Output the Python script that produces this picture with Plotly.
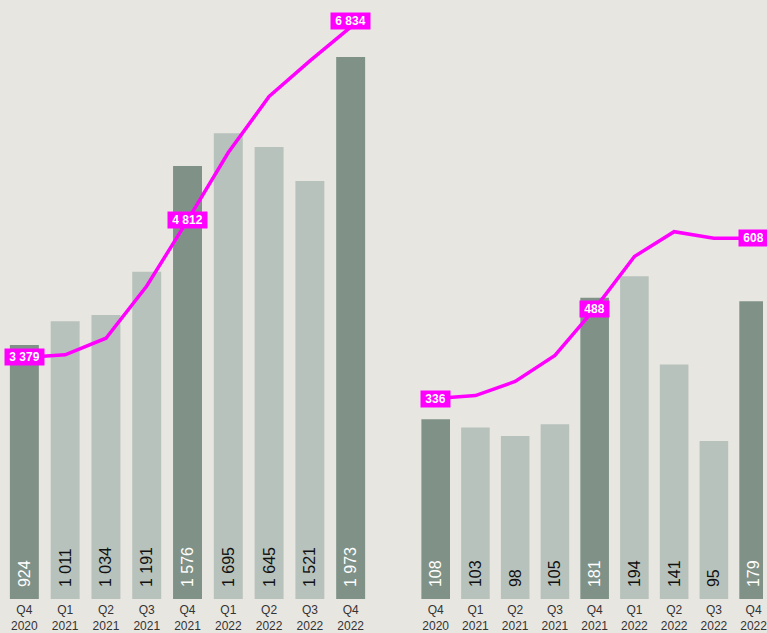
import plotly.graph_objects as go

quarters = ["Q4<br>2020", "Q1<br>2021", "Q2<br>2021", "Q3<br>2021", "Q4<br>2021",
            "Q1<br>2022", "Q2<br>2022", "Q3<br>2022", "Q4<br>2022"]
left_bars = [924, 1011, 1034, 1191, 1576, 1695, 1645, 1521, 1973]
left_line = [3379, 3406, 3580, 4126, 4812, 5522, 6109, 6481, 6834]
right_bars = [108, 103, 98, 105, 181, 194, 141, 95, 179]
right_line = [336, 341, 365, 409, 488, 577, 619, 608, 608]
label_idx = [0, 4, 8]

DARK = "#809288"
LIGHT = "#b8c2bc"
BG = "#e8e6e1"
MAG = "#ff00ff"


def fmt(v):
    return f"{v:,}".replace(",", " ")


def is_dark(i):
    return quarters[i].startswith("Q4")


bar_colors = [DARK if is_dark(i) else LIGHT for i in range(len(quarters))]
txt_colors = ["#ffffff" if is_dark(i) else "#111111" for i in range(len(quarters))]
BARFONT = "Arial, Liberation Sans, sans-serif"

fig = go.Figure()


def add_panel(bars, line, xa, ya, ya2, width):
    fig.add_trace(go.Bar(
        x=quarters, y=bars, xaxis=xa, yaxis=ya, width=width,
        marker=dict(color=bar_colors, line=dict(width=0)),
        text=["\u00a0\u00a0" + fmt(v) for v in bars],
        textposition="inside", insidetextanchor="start", textangle=-90,
        constraintext="none",
        insidetextfont=dict(family=BARFONT, size=16, color=txt_colors),
        hoverinfo="skip", showlegend=False,
    ))
    fig.add_trace(go.Scatter(
        x=quarters, y=line, xaxis=xa, yaxis=ya2, mode="lines",
        line=dict(color=MAG, width=3.5), cliponaxis=False,
        hoverinfo="skip", showlegend=False,
    ))


add_panel(left_bars, left_line, "x", "y", "y2", 0.71)
add_panel(right_bars, right_line, "x2", "y3", "y4", 0.72)

annots = []
for i in label_idx:
    annots.append(dict(x=quarters[i], y=left_line[i], xref="x", yref="y2",
                       text="<b>\u00a0" + fmt(left_line[i]) + "\u00a0</b>",
                       showarrow=False, bgcolor=MAG, borderpad=1,
                       font=dict(family="Arial", size=12, color="white"),
                       yshift=6 if i == 8 else 0))
    annots.append(dict(x=quarters[i], y=right_line[i], xref="x2", yref="y4",
                       text="<b>\u00a0" + fmt(right_line[i]) + "\u00a0</b>",
                       showarrow=False, bgcolor=MAG, borderpad=1,
                       font=dict(family="Arial", size=12, color="white")))

W, H = 767, 633
tickfont = dict(family="Arial", size=12, color="#333333")
common_x = dict(type="category", showgrid=False, zeroline=False, showline=False,
                ticks="", tickfont=tickfont, fixedrange=True, ticklabelstandoff=2)
common_y = dict(showgrid=False, zeroline=False, showline=False, showticklabels=False,
                ticks="", fixedrange=True)

fig.update_layout(
    width=W, height=H, autosize=False,
    margin=dict(l=0, r=0, t=0, b=32),
    paper_bgcolor=BG, plot_bgcolor=BG,
    showlegend=False,
    annotations=annots,
    xaxis=dict(common_x, domain=[4 / W, 373 / W], range=[-0.5, 8.5], anchor="y"),
    yaxis=dict(common_y, range=[0, 2180], anchor="x"),
    yaxis2=dict(common_y, range=[853, 7117], overlaying="y", anchor="x"),
    xaxis2=dict(common_x, domain=[418 / W, 1.0], range=[-0.5, 8.236], anchor="y3"),
    yaxis3=dict(common_y, range=[0, 360], anchor="x2"),
    yaxis4=dict(common_y, range=[-4, 1012], overlaying="y3", anchor="x2"),
)

fig.write_html(
    "out.html",
    config={"displayModeBar": False, "responsive": False},
    post_script=(
        "document.documentElement.style.overflow='hidden';"
        "document.body.style.overflow='hidden';"
        "document.body.style.margin='0';"
        "document.body.style.background='%s';" % BG
    ),
)
